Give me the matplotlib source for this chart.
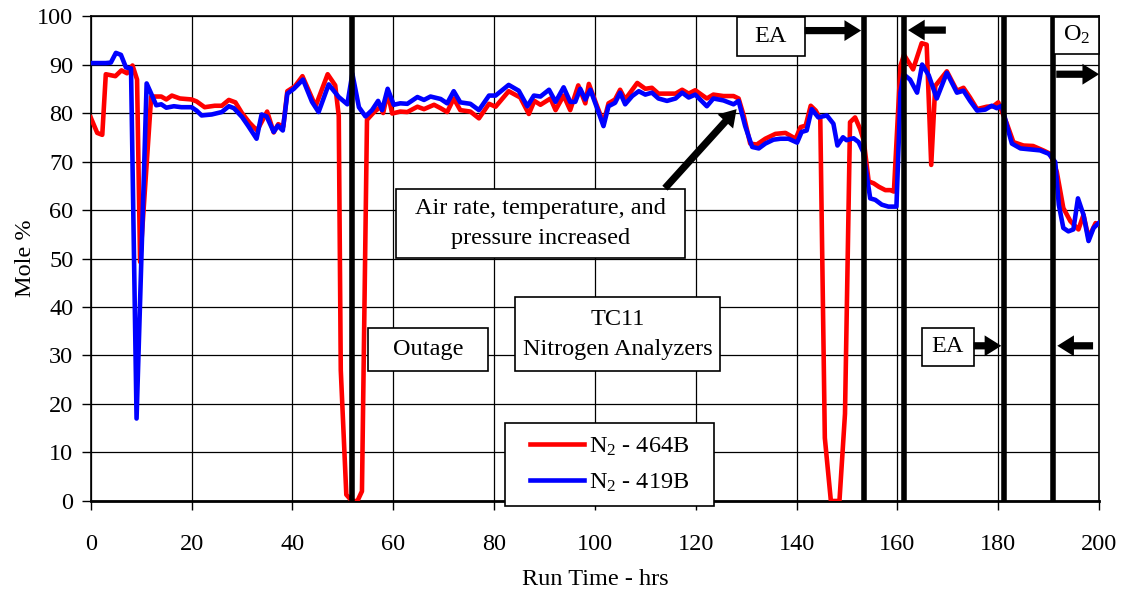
# TC11 nitrogen analyzers - mole % vs run time

import matplotlib
matplotlib.use('Agg')
import matplotlib.pyplot as plt
from matplotlib.patches import Rectangle

plt.rcParams['font.family'] = ['Liberation Serif', 'DejaVu Serif']
plt.rcParams['mathtext.fontset'] = 'custom'
plt.rcParams['mathtext.rm'] = 'Liberation Serif'
plt.rcParams['mathtext.it'] = 'Liberation Serif:italic'

## data
# N2 - 464B (red)
t_464 = [0, 1.3, 2.3, 3, 4.9, 6.1, 7.2, 8.3, 9.2, 9.8, 12, 14, 15, 16.1, 17.7, 20, 21, 22.6,
         24.6, 26, 27.4, 28.7, 30, 31.5, 33, 35, 36.3, 37.2, 38.2, 39, 40.5, 42, 44.6, 47,
         48.5, 49.2, 49.6, 50.7, 51.8, 52.9, 53.8, 54.8, 56.2, 57.5, 58, 58.9, 59.8, 61.4,
         62.8, 64.8, 66.1, 68.1, 69.4, 70.7, 72, 73.3, 75.3, 77, 79, 80.3, 82.9, 85.2, 86.9,
         88, 89.2, 91.2, 92.2, 93.8, 95.1, 96.7, 98.1, 98.8, 100.4, 101.7, 102.7, 104, 105,
         106, 107.4, 108.4, 110, 111.3, 112.6, 114.3, 116, 117.3, 118.6, 119.9, 122.2, 123.5,
         125.5, 127.5, 128.5, 129.5, 130.8, 132.1, 133.8, 135.8, 137.8, 139.8, 140.8, 141.8,
         142.8, 143.8, 144.7, 145.6, 146.8, 148.5, 149.6, 150.6, 151.6, 152.6, 153.3, 154.3,
         155.3, 156.3, 157.6, 158.6, 159.3, 160.6, 161.3, 163.1, 164.8, 165.8, 166.7, 167.5,
         169.8, 171.8, 173.1, 174.4, 175.8, 177.7, 179, 180, 181.7, 183, 185, 186.9, 188.9,
         190.3, 191.6, 192.9, 194.3, 195.9, 196.9, 197.9, 199.3, 200]
n2_464 = [79.1, 75.9, 75.5, 88, 87.6, 88.8, 88.2, 89.8, 86.9, 49.3, 83.4, 83.4, 82.8, 83.6, 83,
          82.8, 82.4, 81.2, 81.5, 81.5, 82.7, 82.2, 80, 78, 76.4, 80.3, 76, 77.7, 77.2, 84.5,
          85.5, 87.6, 81.4, 88, 85.7, 79.4, 27, 1.3, 0, 0, 2, 78.6, 80.2, 81.3, 80, 84.2, 79.9,
          80.3, 80.2, 81.3, 80.8, 81.7, 81, 80.2, 83, 80.6, 80.3, 78.9, 81.9, 81.3, 84.5, 83.2,
          79.8, 82.5, 81.7, 83, 80.6, 83.6, 80.6, 85.7, 82, 86, 81.5, 78, 82, 82.8, 84.8, 82.8,
          84.8, 86.2, 85, 85.2, 84, 84, 84, 84.8, 84, 84.7, 83, 83.8, 83.5, 83.5, 83, 79.5,
          73.7, 73.5, 74.7, 75.7, 75.9, 74.7, 77.1, 77.4, 81.5, 80.5, 78.8, 13, 0, 0, 18, 78.1,
          79.1, 76.7, 74.4, 65.9, 65.5, 64.8, 64.1, 64.1, 63.8, 89.7, 92, 89, 94.4, 94.1, 69.3,
          85.6, 88.6, 84.6, 85.2, 83.2, 80.8, 81.3, 81.4, 82.2, 77.8, 74, 73.3, 73.2, 72.3,
          71.6, 67.9, 60.4, 57.7, 56, 59, 54.3, 57.3, 57]

# N2 - 419B (blue)
t_419 = [0, 1, 2, 3, 4, 5, 6, 7, 8, 9.1, 11.1, 12, 13, 14, 15, 16.5, 18, 20, 21, 22, 24, 26,
         27.4, 28.4, 30, 31.2, 32.9, 33.9, 34.9, 36.3, 37.1, 38.1, 39, 40.3, 42.1, 43.9, 45.2,
         47.2, 49.2, 50.9, 51.9, 53.2, 54.5, 55.8, 57, 57.8, 58.9, 60.1, 61.4, 62.8, 64.8,
         66.1, 67.4, 69.4, 70.7, 72, 73.3, 75.3, 77, 79, 80.3, 82.9, 84.9, 86.6, 87.9, 89.2,
         90.9, 92.2, 93.8, 95.1, 96.1, 97.1, 98.1, 99.1, 100.4, 101.7, 102.7, 104, 105, 106,
         107.4, 108.7, 110, 111.3, 112.6, 114.3, 116, 117.3, 118.6, 119.9, 122.2, 123.5, 125.5,
         127.5, 128.5, 129.8, 131.2, 132.5, 133.8, 135.4, 136.8, 138.4, 140.1, 141, 142, 143,
         144.3, 146, 147.3, 148.1, 149.2, 149.9, 151.3, 152.3, 153.2, 154.6, 155.6, 156.9,
         158.2, 159.8, 160.6, 161.2, 162.5, 163.9, 164.9, 166.2, 167.8, 169.8, 171.8, 173.1,
         174.4, 175.8, 177.4, 178.7, 179.7, 180.7, 181.7, 182.7, 184.4, 186.3, 188.3, 190,
         191.3, 192, 192.9, 193.9, 194.9, 195.8, 196.9, 197.9, 198.9, 199.9]
n2_419 = [90.3, 90.3, 90.3, 90.3, 90.4, 92.4, 92, 89.4, 89.2, 17, 86.1, 84, 81.6, 81.8, 81.1,
          81.4, 81.2, 81.2, 80.5, 79.5, 79.7, 80.2, 81.4, 81, 79.2, 77.4, 74.7, 79.7, 79.3,
          76.1, 77.4, 76.4, 84, 85, 86.9, 82.3, 80.2, 85.9, 83.3, 81.8, 88.1, 81.2, 79.3, 80.6,
          82.5, 80.6, 85, 81.7, 82, 81.9, 83.3, 82.7, 83.4, 82.9, 82, 84.5, 82.2, 81.9, 80.6,
          83.6, 83.6, 85.8, 84.6, 81.4, 83.6, 83.4, 84.8, 82.3, 85.3, 82.3, 82.3, 85, 82.8,
          84.8, 81.1, 77.3, 81.4, 82.1, 84.2, 81.8, 83.5, 84.5, 83.8, 84.2, 83, 82.5, 83, 84.2,
          83.2, 83.8, 81.4, 83, 82.6, 81.8, 82.5, 77.3, 73, 72.7, 73.7, 74.5, 74.7, 74.7, 73.9,
          76.1, 76.4, 80.8, 79.1, 79.5, 77.8, 73.3, 75, 74.4, 74.8, 74, 72, 62.4, 62.1, 61.1,
          60.7, 60.7, 84.2, 88, 86.9, 84.2, 90, 87.8, 83, 88.3, 84.2, 84.6, 82.5, 80.5, 80.7,
          81.5, 81, 81.5, 77.4, 73.7, 72.7, 72.5, 72.3, 71.6, 69.9, 61.1, 56.3, 55.6, 56, 62.4,
          59, 53.6, 56.3, 57.3]

# event lines (hrs)
events = [51.9, 153.3, 161.4, 181.2, 190.9]

## plot
fig = plt.figure(figsize=(11.25, 5.94), dpi=100)
ax = fig.add_axes([0.0806, 0.1566, 0.8964, 0.8164])

ax.plot(t_464, n2_464, color='#ff0000', lw=3.3, label='N$_2$ - 464B', zorder=3)
ax.plot(t_419, n2_419, color='#0000ff', lw=3.3, label='N$_2$ - 419B', zorder=4)

for ev in events:
    ax.axvline(ev, color='black', lw=4, zorder=5)

ax.set_xlim(0, 200)
ax.set_ylim(0, 100)
ax.set_xticks(range(0, 201, 20))
ax.set_yticks(range(0, 101, 10))
ax.grid(True, color='black', lw=0.9)
ax.set_axisbelow(True)
ax.tick_params(direction='out', length=6.5, width=1, labelsize=17.5)
ax.tick_params(axis='x', pad=17)
ax.tick_params(axis='y', pad=6)
for s in ax.spines.values():
    s.set_linewidth(1.2)
ax.spines['bottom'].set_linewidth(2)
ax.set_xlabel('Run Time - hrs', fontsize=17.5, labelpad=10)
ax.set_ylabel('Mole %', fontsize=17.5, labelpad=1)

## annotation boxes
def box(x0, y0, w, h, txt):
    ax.add_patch(Rectangle((x0, y0), w, h, facecolor='white', edgecolor='black',
                           lw=1.2, zorder=6, clip_on=False))
    ax.text(x0 + w / 2, y0 + h / 2, txt, ha='center', va='center', fontsize=17.5,
            zorder=7, linespacing=1.55)

def arrow(x0, y0, x1, y1):
    ax.annotate('', xy=(x1, y1), xytext=(x0, y0), zorder=7, annotation_clip=False,
                arrowprops=dict(arrowstyle='simple,head_width=0.75,head_length=0.6,tail_width=0.26',
                                mutation_scale=20, fc='black', ec='black', lw=0,
                                shrinkA=0, shrinkB=0))

box(128.2, 91.8, 13.4, 8.0, 'EA')
arrow(141.6, 97.0, 152.8, 97.0)
arrow(169.6, 97.1, 162.1, 97.1)
box(191.0, 92.2, 8.9, 7.7, 'O$_2$')
arrow(191.5, 88.0, 200.0, 88.0)
box(164.8, 27.9, 10.3, 7.8, 'EA')
arrow(175.1, 32.0, 180.6, 32.0)
arrow(198.8, 32.0, 191.7, 32.0)
box(60.6, 50.1, 57.3, 14.2, 'Air rate, temperature, and\npressure increased')
arrow(113.9, 64.5, 128.1, 80.8)
box(55.0, 26.8, 23.8, 8.9, 'Outage')
box(84.2, 26.8, 40.7, 15.2, 'TC11\nNitrogen Analyzers')

# legend: frame drawn as a box, entries inside without frame
ax.add_patch(Rectangle((82.2, -1.0), 41.4, 17.0, facecolor='white', edgecolor='black',
                       lw=1.2, zorder=8, clip_on=False))
leg = ax.legend(loc='center', bbox_to_anchor=(0.5145, 0.075), fontsize=17.5,
                frameon=False, handlelength=2.2, labelspacing=0.55, handletextpad=0.2)
leg.set_zorder(9)

plt.savefig('out.png', dpi=100)
